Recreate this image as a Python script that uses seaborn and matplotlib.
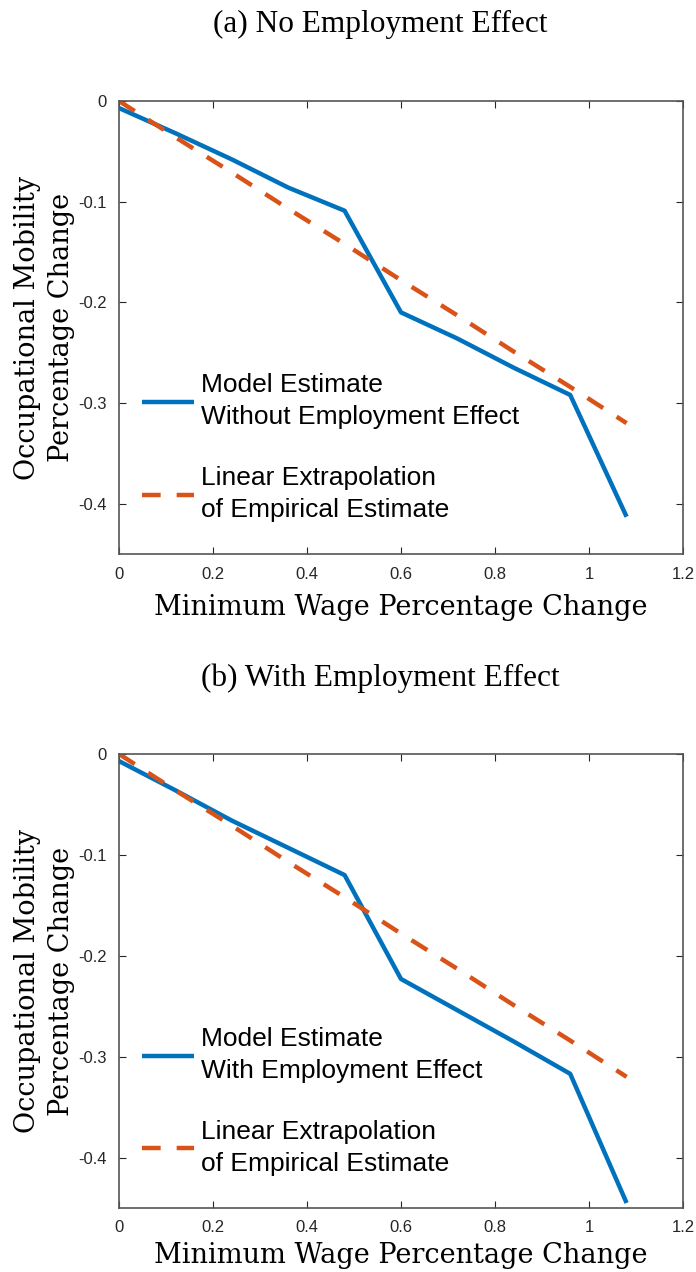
import pandas as pd
import matplotlib
matplotlib.use("Agg")
import matplotlib.pyplot as plt
import matplotlib.ticker as mticker
import seaborn as sns

# minimum wage percentage change (x)
wage_change = [0.0, 0.12, 0.24, 0.36, 0.48, 0.60, 0.72, 0.84, 0.96, 1.08]

# panel (a): model without employment effect
model_no_emp = [-0.007, -0.032, -0.058, -0.086, -0.109, -0.210, -0.236, -0.265, -0.292, -0.413]
# panel (b): model with employment effect
model_with_emp = [-0.007, -0.036, -0.066, -0.093, -0.120, -0.223, -0.254, -0.285, -0.317, -0.445]
# linear extrapolation of the empirical estimate (same in both panels)
linear_extrap = [0.0, -0.036, -0.071, -0.107, -0.142, -0.178, -0.213, -0.249, -0.284, -0.320]

titles = ["(a) No Employment Effect", "(b) With Employment Effect"]
model_labels = ["Model Estimate\nWithout Employment Effect",
                "Model Estimate\nWith Employment Effect"]
extrap_label = "Linear Extrapolation\nof Empirical Estimate"
x_ticks = [0, 0.2, 0.4, 0.6, 0.8, 1.0, 1.2]
y_ticks = [0, -0.1, -0.2, -0.3, -0.4]

BLUE = "#0072BD"
ORANGE = "#D95319"
GRAY = "#262626"

sns.set_style("ticks")
plt.rcParams["font.family"] = ["Liberation Sans", "DejaVu Sans"]
plt.rcParams["axes.unicode_minus"] = False


def draw_panel(ax, model_vals, model_label, xlabelpad):
    df = pd.DataFrame({"x": wage_change, "model": model_vals, "linear": linear_extrap})
    sns.lineplot(data=df, x="x", y="model", ax=ax, color=BLUE, lw=3.2,
                 label=model_label, solid_capstyle="butt")
    sns.lineplot(data=df, x="x", y="linear", ax=ax, color=ORANGE, lw=3.2,
                 label=extrap_label, dashes=False)
    ax.lines[1].set_dashes([4.2, 3.6])
    ax.lines[1].set_dash_capstyle("butt")

    ax.set_xlim(0, 1.2)
    ax.set_ylim(-0.45, 0)
    ax.set_xticks(x_ticks)
    ax.set_yticks(y_ticks)
    ax.xaxis.set_major_formatter(mticker.FuncFormatter(lambda v, p: "%g" % round(v, 2)))
    ax.yaxis.set_major_formatter(mticker.FuncFormatter(lambda v, p: "%g" % round(v, 2)))
    ax.tick_params(direction="in", top=True, right=True, length=5, width=0.8,
                   color=GRAY, labelcolor=GRAY, labelsize=12, pad=9)
    for sp in ax.spines.values():
        sp.set_visible(True)
        sp.set_color("#555555")
        sp.set_linewidth(1.2)

    ax.set_xlabel("Minimum Wage Percentage Change", family="DejaVu Serif",
                  fontsize=19.5, color="black", labelpad=xlabelpad)
    ax.set_ylabel("Occupational Mobility\nPercentage Change", family="DejaVu Serif",
                  fontsize=19.5, color="black", labelpad=2, linespacing=1.35)

    leg = ax.legend(loc="lower left", bbox_to_anchor=(0.04, 0.07), frameon=False,
                    fontsize=19, handlelength=2.0, handletextpad=0.25,
                    borderpad=0, borderaxespad=0, labelspacing=1.4)
    for t in leg.get_texts():
        t.set_linespacing(1.42)
        t.set_color("black")


fig = plt.figure(figsize=(6.96, 12.72), dpi=100)
W, H = 696, 1272
ax_a = fig.add_axes([119 / W, 1 - 554 / H, 564 / W, 453 / H])
ax_b = fig.add_axes([119 / W, 1 - 1208 / H, 564 / W, 454 / H])

draw_panel(ax_a, model_no_emp, model_labels[0], 9)
draw_panel(ax_b, model_with_emp, model_labels[1], 5)

fig.text(380 / W, 1 - 24 / H, titles[0], family="Liberation Serif", fontsize=22.5,
         ha="center", va="center", color="black")
fig.text(380 / W, 1 - 678 / H, titles[1], family="Liberation Serif", fontsize=22.5,
         ha="center", va="center", color="black")

fig.savefig("out.png", dpi=100)
